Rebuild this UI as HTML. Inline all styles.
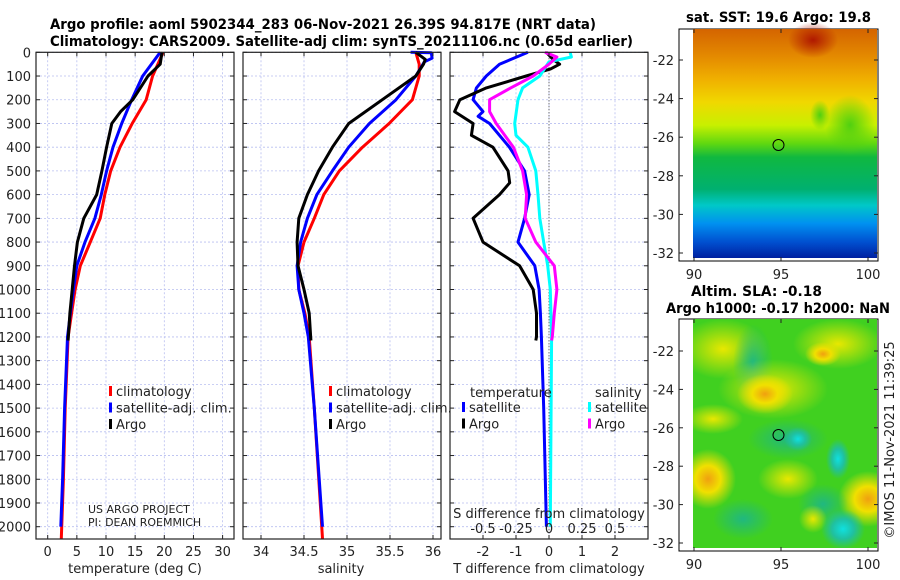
<!DOCTYPE html>
<html><head><meta charset="utf-8">
<style>
html,body{margin:0;padding:0;background:#fff;}
svg{display:block;font-family:"DejaVu Sans","Liberation Sans",sans-serif;}
</style></head>
<body>
<svg id="fig" width="900" height="580" viewBox="0 0 900 580" xmlns="http://www.w3.org/2000/svg">
<defs>
<linearGradient id="sstg" x1="0" y1="0" x2="0" y2="1">
<stop offset="0" stop-color="#d46400"/>
<stop offset="0.12" stop-color="#e48a00"/>
<stop offset="0.22" stop-color="#f0b000"/>
<stop offset="0.32" stop-color="#f0d800"/>
<stop offset="0.42" stop-color="#c8f000"/>
<stop offset="0.5" stop-color="#60d810"/>
<stop offset="0.56" stop-color="#10b840"/>
<stop offset="0.7" stop-color="#00b070"/>
<stop offset="0.77" stop-color="#00c8c8"/>
<stop offset="0.85" stop-color="#0090f0"/>
<stop offset="0.93" stop-color="#0050d0"/>
<stop offset="1" stop-color="#0020a0"/>
</linearGradient>
<radialGradient id="redblob"><stop offset="0" stop-color="#b01800"/><stop offset="1" stop-color="#b01800" stop-opacity="0"/></radialGradient>
<radialGradient id="grnblob"><stop offset="0" stop-color="#50d010"/><stop offset="1" stop-color="#50d010" stop-opacity="0"/></radialGradient>
<radialGradient id="yelblob"><stop offset="0" stop-color="#f0a010"/><stop offset="0.45" stop-color="#f0e000"/><stop offset="1" stop-color="#f0e000" stop-opacity="0"/></radialGradient>
<radialGradient id="yelblob2"><stop offset="0" stop-color="#e8e800"/><stop offset="1" stop-color="#e8e800" stop-opacity="0"/></radialGradient>
<radialGradient id="tealblob"><stop offset="0" stop-color="#20b880"/><stop offset="1" stop-color="#20b880" stop-opacity="0"/></radialGradient>
<radialGradient id="cyanblob"><stop offset="0" stop-color="#10e0e0"/><stop offset="0.5" stop-color="#20c0a0"/><stop offset="1" stop-color="#20c0a0" stop-opacity="0"/></radialGradient>
</defs>

<text x="50" y="29" font-size="14" font-weight="bold" textLength="546" lengthAdjust="spacingAndGlyphs">Argo profile: aoml 5902344_283 06-Nov-2021 26.39S 94.817E (NRT data)</text>
<text x="50" y="46" font-size="14" font-weight="bold" textLength="583" lengthAdjust="spacingAndGlyphs">Climatology: CARS2009. Satellite-adj clim: synTS_20211106.nc (0.65d earlier)</text>

<g id="panels"></g>

<!-- SST map -->
<g>
<rect x="679" y="29" width="199" height="232" fill="#fff" stroke="#000" stroke-width="1"/>
<rect x="693" y="29" width="184" height="229" fill="url(#sstg)"/>
<ellipse cx="813" cy="40" rx="25" ry="18" fill="url(#redblob)"/>
<ellipse cx="850" cy="125" rx="25" ry="30" fill="url(#grnblob)"/>
<ellipse cx="820" cy="115" rx="10" ry="15" fill="url(#grnblob)"/>
<circle cx="778.5" cy="145" r="5.5" fill="none" stroke="#000" stroke-width="1"/>
<text x="686" y="22" font-size="14" font-weight="bold" textLength="185" lengthAdjust="spacingAndGlyphs">sat. SST: 19.6 Argo: 19.8</text>
<g id="sstticks" font-size="13" fill="#222"></g>
</g>

<!-- SLA map -->
<g>
<rect x="679" y="319" width="199" height="232" fill="#fff" stroke="#000" stroke-width="1"/>
<svg x="693" y="319" width="184" height="229" overflow="hidden">
<rect x="0" y="0" width="184" height="229" fill="#40d020"/>
<ellipse cx="30" cy="30" rx="45" ry="30" fill="url(#yelblob2)"/>
<ellipse cx="60" cy="45" rx="20" ry="40" fill="url(#tealblob)"/>
<ellipse cx="145" cy="25" rx="45" ry="25" fill="url(#yelblob2)"/>
<ellipse cx="130" cy="35" rx="18" ry="12" fill="url(#yelblob)"/>
<ellipse cx="80" cy="70" rx="55" ry="30" fill="url(#yelblob2)"/>
<ellipse cx="72" cy="75" rx="28" ry="20" fill="url(#yelblob)"/>
<ellipse cx="20" cy="100" rx="30" ry="15" fill="url(#yelblob2)"/>
<ellipse cx="95" cy="120" rx="40" ry="20" fill="url(#tealblob)"/>
<ellipse cx="105" cy="120" rx="14" ry="12" fill="url(#cyanblob)"/>
<ellipse cx="145" cy="140" rx="12" ry="20" fill="url(#cyanblob)"/>
<ellipse cx="15" cy="160" rx="28" ry="30" fill="url(#yelblob)"/>
<ellipse cx="95" cy="160" rx="30" ry="20" fill="url(#yelblob2)"/>
<ellipse cx="175" cy="180" rx="30" ry="28" fill="url(#yelblob)"/>
<ellipse cx="130" cy="185" rx="25" ry="20" fill="url(#tealblob)"/>
<ellipse cx="120" cy="200" rx="14" ry="14" fill="url(#yelblob2)"/>
<ellipse cx="150" cy="210" rx="22" ry="20" fill="url(#cyanblob)"/>
<ellipse cx="50" cy="200" rx="30" ry="20" fill="url(#tealblob)"/>
</svg>
<circle cx="778.5" cy="435" r="5.5" fill="none" stroke="#000" stroke-width="1"/>
<text x="691" y="296" font-size="14" font-weight="bold" textLength="131" lengthAdjust="spacingAndGlyphs">Altim. SLA: -0.18</text>
<text x="666" y="313" font-size="14" font-weight="bold" textLength="224" lengthAdjust="spacingAndGlyphs">Argo h1000: -0.17 h2000: NaN</text>
<g id="slaticks" font-size="13" fill="#222"></g>
</g>

<text transform="translate(894,440) rotate(-90)" font-size="13" fill="#222" text-anchor="middle">©IMOS 11-Nov-2021 11:39:25</text>
</svg>

<script>
// ---------- data ----------
const depthTicks = [0,100,200,300,400,500,600,700,800,900,1000,1100,1200,1300,1400,1500,1600,1700,1800,1900,2000];
const tempTicks = [0,5,10,15,20,25,30];
const salTicks = [34,34.5,35,35.5,36];
const tdiffTicks = [-2,-1,0,1,2];
const sdiffTicks = [-0.5,-0.25,0,0.25,0.5];
const sdiffTickLabels = ["-0.5","-0.25","0","0.25","0.5"];

const tClimDepth = [0,100,200,300,400,500,600,700,800,900,1000,1100,1200,1500,1800,2050];
const tClimVal   = [19.8,18.0,16.9,14.5,12.4,10.8,9.8,9.0,7.3,5.6,4.7,4.1,3.5,3.0,2.7,2.33];
const tSatDepth  = [0,100,200,300,400,500,600,700,800,900,1000,1100,1200,1500,1800,2000];
const tSatVal    = [19.3,16.3,14.4,12.7,11.2,10.1,9.2,8.1,6.4,5.0,4.4,3.9,3.4,2.9,2.55,2.25];
const tArgoDepth = [0,50,100,200,250,300,400,500,600,700,800,900,1000,1100,1215];
const tArgoVal   = [19.6,19.3,17.2,14.6,12.5,11.0,10.1,9.3,8.4,6.2,5.1,4.6,4.2,3.8,3.5];

const sClimDepth = [0,50,100,200,300,400,500,600,700,800,900,1000,1100,1200,1500,2050];
const sClimVal   = [35.80,35.84,35.84,35.76,35.49,35.18,34.91,34.73,34.62,34.50,34.43,34.44,34.51,34.56,34.62,34.715];
const sSatDepth  = [0,2,25,40,100,200,300,400,500,600,700,800,900,1000,1100,1200,1500,2000];
const sSatVal    = [35.74,35.98,35.99,35.90,35.80,35.57,35.26,35.02,34.83,34.65,34.54,34.46,34.42,34.44,34.50,34.55,34.62,34.715];
const sArgoDepth = [0,30,50,100,200,300,400,500,600,700,800,900,1000,1100,1215];
const sArgoVal   = [35.80,35.91,35.89,35.80,35.41,35.02,34.83,34.67,34.54,34.44,34.42,34.43,34.50,34.56,34.58];

const dTSatDepth  = [0,50,100,150,200,250,270,300,400,500,600,700,800,900,1000,1100,1200,1500,2000];
const dTSatVal    = [-0.64,-1.5,-1.9,-2.2,-2.3,-2.0,-2.15,-1.8,-1.2,-0.74,-0.6,-0.74,-0.94,-0.43,-0.3,-0.26,-0.23,-0.16,-0.08];
const dTArgoDepth = [0,30,50,70,100,150,200,250,300,350,400,500,550,600,700,800,900,1000,1100,1200,1215];
const dTArgoVal   = [-0.08,0.12,0.32,0.05,-0.69,-1.9,-2.7,-2.86,-2.3,-2.35,-1.7,-1.24,-1.19,-1.5,-2.3,-2.0,-0.89,-0.48,-0.38,-0.38,-0.4];
const dSSatDepth  = [0,20,40,100,150,200,300,350,400,500,600,700,800,900,1000,1200,2000];
const dSSatVal    = [0.16,0.17,0.0,-0.07,-0.2,-0.235,-0.26,-0.25,-0.16,-0.1,-0.083,-0.07,-0.04,-0.01,0.01,0.02,0.01];
const dSArgoDepth = [0,20,50,100,150,200,250,300,400,500,600,700,800,900,1000,1100,1200,1215];
const dSArgoVal   = [-0.03,0.06,0.0,-0.12,-0.29,-0.45,-0.45,-0.4,-0.27,-0.2,-0.17,-0.18,-0.1,0.04,0.06,0.04,0.025,0.02];

const latTicks = [-22,-24,-26,-28,-30,-32];
const lonTicks = [90,95,100];

// ---------- helpers ----------
const NS = "http://www.w3.org/2000/svg";
const fig = document.getElementById('panels');
function mk(tag, attrs, parent){ const e=document.createElementNS(NS,tag); for(const k in attrs) e.setAttribute(k,attrs[k]); (parent||fig).appendChild(e); return e; }
const TOP=52.3, BOT=539, Y0=52.3, YK=0.2372;
function yD(d){ return Y0 + d*YK; }

const panels = [
 {name:'temperature', x0:36, x1:234, f:v=>47.7+v*5.83},
 {name:'salinity', x0:243, x1:441, f:v=>261+(v-34)*86},
 {name:'difference', x0:450, x1:648, f:v=>549+v*33}
];
const fS = v => 549 + v*132;

function gridAndBox(p, xticks){
  for(const d of depthTicks){
    const l = mk('line',{x1:p.x0,x2:p.x1,y1:yD(d),y2:yD(d),stroke:'#b8bff0','stroke-width':0.8,'stroke-dasharray':'2,2'});
    
    
  }
  for(const t of xticks){
    const l = mk('line',{x1:p.f(t),x2:p.f(t),y1:TOP,y2:BOT,stroke:'#b8bff0','stroke-width':0.8,'stroke-dasharray':'2,2'});
    
    
  }
}
function box(p, xticks){
  const r = mk('rect',{x:p.x0,y:TOP,width:p.x1-p.x0,height:BOT-TOP,fill:'none',stroke:'#222','stroke-width':1.2});
  
  
  for(const d of depthTicks){
    mk('line',{x1:p.x0,x2:p.x0+4,y1:yD(d),y2:yD(d),stroke:'#222'});
    mk('line',{x1:p.x1-4,x2:p.x1,y1:yD(d),y2:yD(d),stroke:'#222'});
  }
  for(const t of xticks){
    mk('line',{x1:p.f(t),x2:p.f(t),y1:BOT-4,y2:BOT,stroke:'#222'});
    mk('line',{x1:p.f(t),x2:p.f(t),y1:TOP,y2:TOP+4,stroke:'#222'});
  }
}
function series(p, fx, depths, vals, color, name, w){
  const pts = depths.map((d,i)=>fx(vals[i]).toFixed(1)+','+yD(d).toFixed(1)).join(' ');
  const pl = mk('polyline',{points:pts,fill:'none',stroke:color,'stroke-width':w||3,'stroke-linejoin':'round'});
  
  
}
function txt(x,y,s,attrs,name){
  const t = mk('text',Object.assign({x:x,y:y,'font-size':13,fill:'#222'},attrs||{}));
  t.textContent = s;
  
  
  return t;
}

// panel 1
gridAndBox(panels[0], tempTicks);
series(panels[0], panels[0].f, tClimDepth, tClimVal, '#ff0000', 'temp-climatology-line');
series(panels[0], panels[0].f, tSatDepth, tSatVal, '#0000ff', 'temp-satellite-line');
series(panels[0], panels[0].f, tArgoDepth, tArgoVal, '#000000', 'temp-argo-line');
box(panels[0], tempTicks);
for(const d of depthTicks) txt(31, yD(d)+5, String(d), {'text-anchor':'end'}, 'depth-tick-label');
for(const t of tempTicks) txt(panels[0].f(t), 556, String(t), {'text-anchor':'middle'}, 'temp-tick-label');
txt(135, 573, 'temperature (deg C)', {'text-anchor':'middle'}, 'temp-axis-title');
txt(88, 513, 'US ARGO PROJECT', {'font-size':11}, 'credit-line-1');
txt(88, 526, 'PI: DEAN ROEMMICH', {'font-size':11}, 'credit-line-2');

// panel 2
gridAndBox(panels[1], salTicks);
series(panels[1], panels[1].f, sClimDepth, sClimVal, '#ff0000', 'sal-climatology-line');
series(panels[1], panels[1].f, sSatDepth, sSatVal, '#0000ff', 'sal-satellite-line');
series(panels[1], panels[1].f, sArgoDepth, sArgoVal, '#000000', 'sal-argo-line');
box(panels[1], salTicks);
for(const t of salTicks) txt(panels[1].f(t), 556, String(t), {'text-anchor':'middle'}, 'sal-tick-label');
txt(341, 573, 'salinity', {'text-anchor':'middle'}, 'sal-axis-title');

// legends p1 & p2
function legend(x, items){
  items.forEach((it,i)=>{
    const y = 392 + i*16.5;
    const m = mk('rect',{x:x,y:y-6,width:3,height:10,fill:it[0]});
    
    
    txt(x+7, y+4, it[1], {}, 'legend-entry');
  });
}
legend(109, [['#ff0000','climatology'],['#0000ff','satellite-adj. clim.'],['#000000','Argo']]);
legend(329, [['#ff0000','climatology'],['#0000ff','satellite-adj. clim.'],['#000000','Argo']]);

// panel 3
gridAndBox(panels[2], tdiffTicks);
const zl = mk('line',{x1:549,x2:549,y1:TOP,y2:BOT,stroke:'#444','stroke-width':1,'stroke-dasharray':'1,2'});


series(panels[2], panels[2].f, dTSatDepth, dTSatVal, '#0000ff', 'tdiff-satellite-line');
series(panels[2], panels[2].f, dTArgoDepth, dTArgoVal, '#000000', 'tdiff-argo-line');
series(panels[2], fS, dSSatDepth, dSSatVal, '#00ffff', 'sdiff-satellite-line');
series(panels[2], fS, dSArgoDepth, dSArgoVal, '#ff00ff', 'sdiff-argo-line');
box(panels[2], tdiffTicks);
for(const t of tdiffTicks) txt(panels[2].f(t), 556, String(t), {'text-anchor':'middle'}, 'tdiff-tick-label');
txt(549, 573, 'T difference from climatology', {'text-anchor':'middle'}, 'tdiff-axis-title');
txt(549, 518, 'S difference from climatology', {'text-anchor':'middle'}, 'sdiff-axis-title');
sdiffTicks.forEach((t,i)=>txt(fS(t), 533, sdiffTickLabels[i], {'text-anchor':'middle'}, 'sdiff-tick-label'));
txt(470, 397, 'temperature', {}, 'legend-temperature-header');
txt(595, 397, 'salinity', {}, 'legend-salinity-header');
[['#0000ff',462,'satellite'],['#000000',462,'Argo'],['#00ffff',588,'satellite'],['#ff00ff',588,'Argo']].forEach((it,i)=>{
  const y = 408 + (i%2)*16.5;
  const m = mk('rect',{x:it[1],y:y-6,width:3,height:10,fill:it[0]});
  
  
  txt(it[1]+7, y+4, it[2], {}, 'legend-entry');
});

// map ticks
function mapTicks(gid, top, lat22y, lat32y){
  const g = document.getElementById(gid);
  const k = (lat32y-lat22y)/10;
  for(const la of latTicks){
    const y = lat22y + (-22-la)*k;
    mk('line',{x1:679,x2:683,y1:y,y2:y,stroke:'#222'},g);
    mk('line',{x1:874,x2:878,y1:y,y2:y,stroke:'#222'},g);
    const t = mk('text',{x:674,y:y+5,'text-anchor':'end'},g);
    t.textContent = String(la);
    
    
  }
  for(const lo of lonTicks){
    const x = 694 + (lo-90)*17.4;
    mk('line',{x1:x,x2:x,y1:top+228,y2:top+232,stroke:'#222'},g);
    mk('line',{x1:x,x2:x,y1:top,y2:top+4,stroke:'#222'},g);
    const t = mk('text',{x:x,y:top+250,'text-anchor':'middle'},g);
    t.textContent = String(lo);
    
    
  }
}
mapTicks('sstticks', 29, 60, 253);
mapTicks('slaticks', 319, 351, 543);
</script>
</body></html>
